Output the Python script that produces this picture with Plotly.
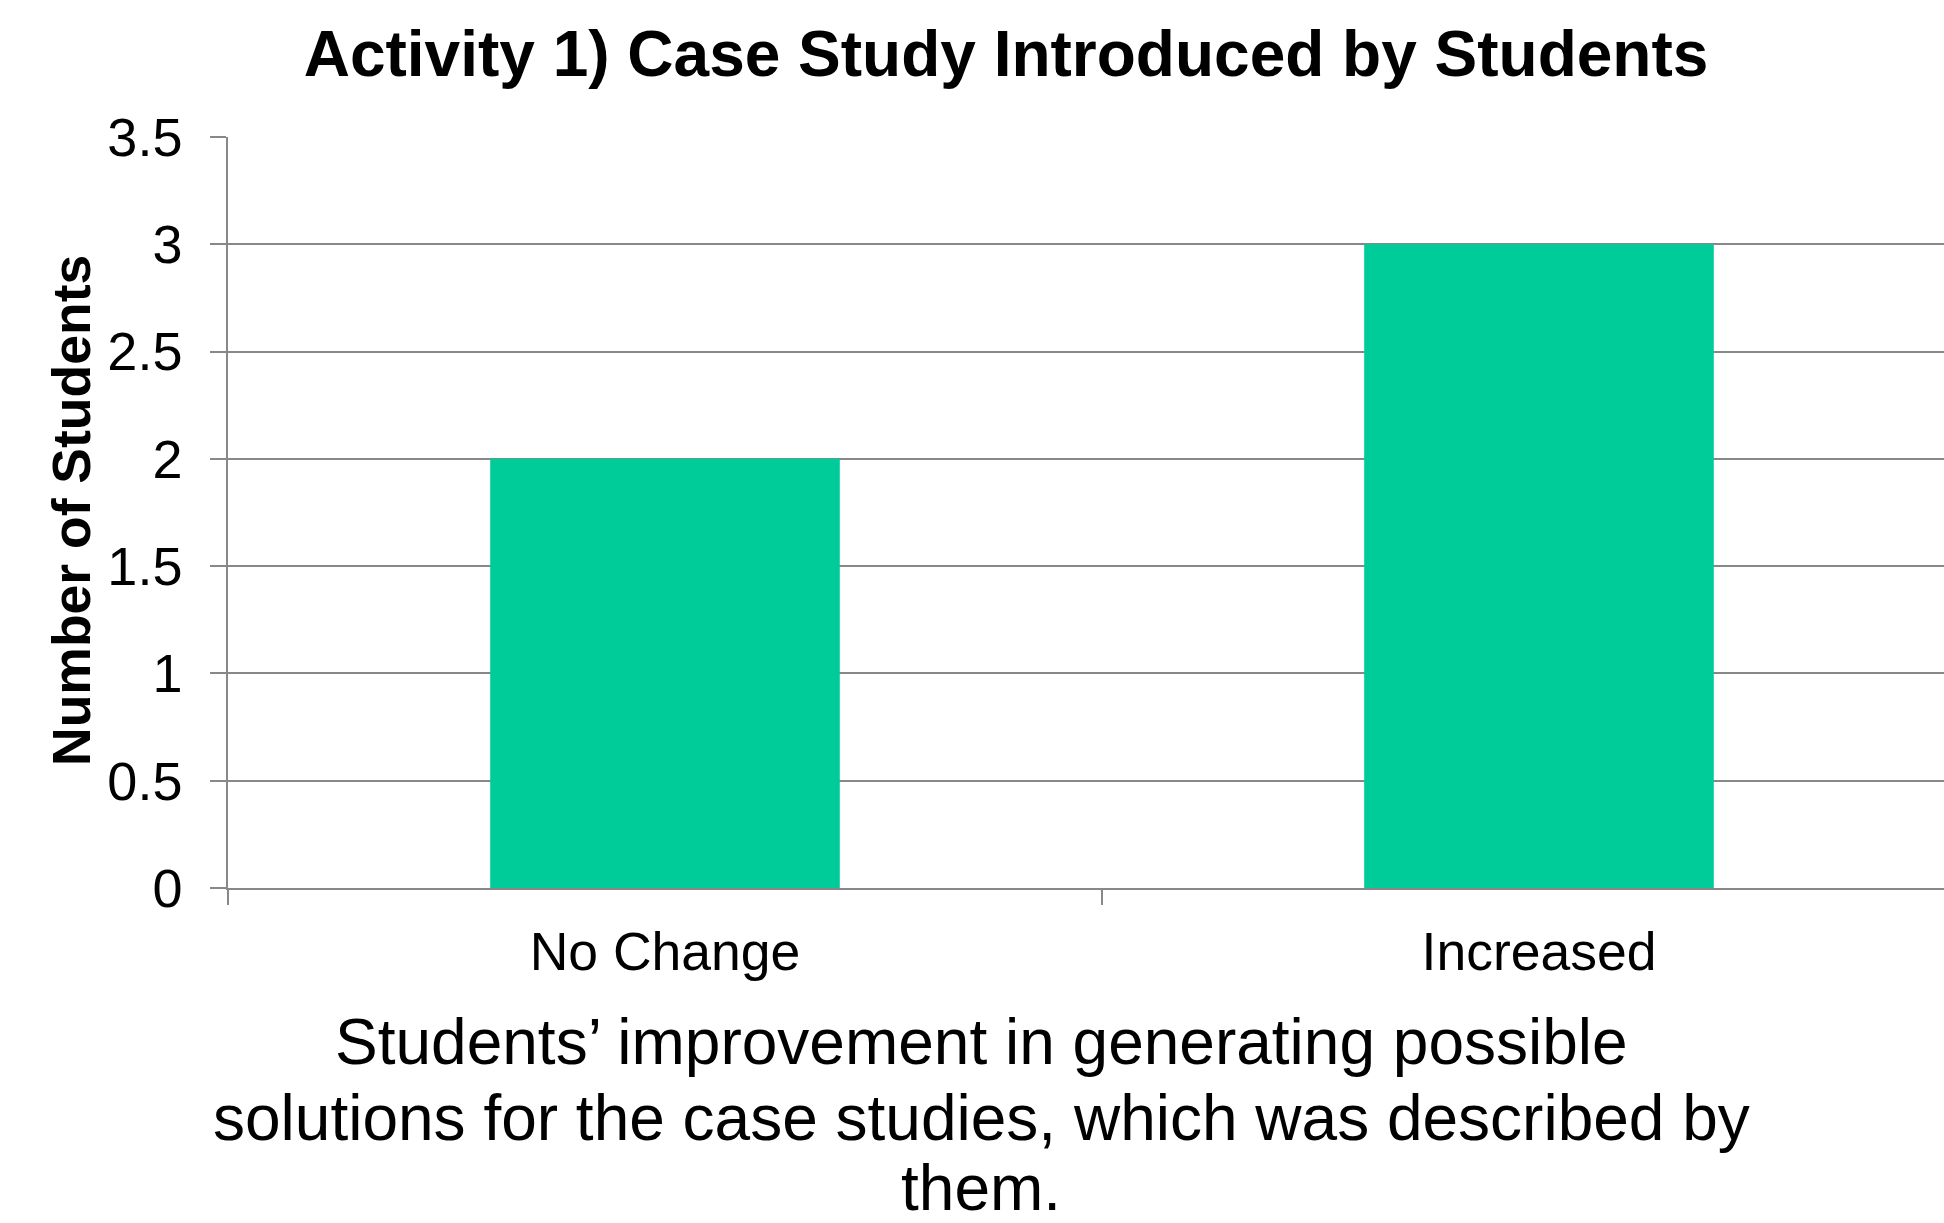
import plotly.graph_objects as go

# ---- data ----
categories = ["No Change", "Increased"]
students = [2, 3]
y_tick_vals = [0, 0.5, 1, 1.5, 2, 2.5, 3, 3.5]
y_tick_text = ["0", "0.5", "1", "1.5", "2", "2.5", "3", "3.5"]
title_text = "Activity 1) Case Study Introduced by Students"
y_title = "Number of Students"
caption_lines = [
    "Students\u2019 improvement in generating possible",
    "solutions for the case studies, which was described by",
    "them.",
]

# ---- layout geometry (pixels) ----
W, H = 1944, 1223
L, R, T, B = 228, 0, 137, 335
PW, PH = W - L - R, H - T - B
FONT = "Liberation Sans, Arial, Helvetica, sans-serif"
GRAY = "#888888"
BAR = "#00CC99"


def px_x(x):
    return (x - L) / PW


def px_y(y):
    return (H - B - y) / PH


fig = go.Figure(
    go.Bar(
        x=categories,
        y=students,
        width=0.4,
        marker=dict(color=BAR, line=dict(width=0)),
        hoverinfo="x+y",
    )
)

annotations = []
# y-axis title
annotations.append(dict(
    text=f"<b>{y_title}</b>", xref="paper", yref="paper",
    x=px_x(71), y=px_y(511), xanchor="center", yanchor="middle",
    textangle=-90, showarrow=False,
    font=dict(family=FONT, size=53.5, color="black"),
))
# caption below the chart
for line, ymid in zip(caption_lines, [1042, 1118, 1188]):
    annotations.append(dict(
        text=line, xref="paper", yref="paper",
        x=px_x(981), y=px_y(ymid), xanchor="center", yanchor="middle",
        showarrow=False, borderpad=0,
        font=dict(family=FONT, size=64, color="black"),
    ))

fig.update_layout(
    width=W, height=H,
    margin=dict(l=L, r=R, t=T, b=B, pad=0),
    paper_bgcolor="white", plot_bgcolor="white",
    showlegend=False,
    font=dict(family=FONT, color="black"),
    title=dict(
        text=f"<b>{title_text}</b>",
        xref="container", yref="container",
        x=1006 / W, y=1 - 54 / H, xanchor="center", yanchor="middle",
        font=dict(family=FONT, size=64, color="black"),
    ),
    xaxis=dict(
        type="category",
        range=[-0.5, 1.4634],
        showline=True, linecolor=GRAY, linewidth=1.5,
        showgrid=False, zeroline=False,
        ticks="outside", tickson="boundaries", ticklen=15,
        tickcolor=GRAY, tickwidth=1.5,
        tickfont=dict(family=FONT, size=53.5, color="black"),
        ticklabelstandoff=16,
        fixedrange=True,
    ),
    yaxis=dict(
        range=[0, 3.5],
        tickvals=y_tick_vals, ticktext=y_tick_text,
        showline=True, linecolor=GRAY, linewidth=1.5,
        showgrid=True, gridcolor=GRAY, gridwidth=1.5,
        zeroline=False,
        ticks="outside", ticklen=16, tickcolor=GRAY, tickwidth=1.5,
        tickfont=dict(family=FONT, size=54, color="black"),
        ticklabelstandoff=17,
        fixedrange=True,
    ),
    annotations=annotations,
    bargap=0.6,
)

fig.write_html("out.html", config={"displayModeBar": False})
